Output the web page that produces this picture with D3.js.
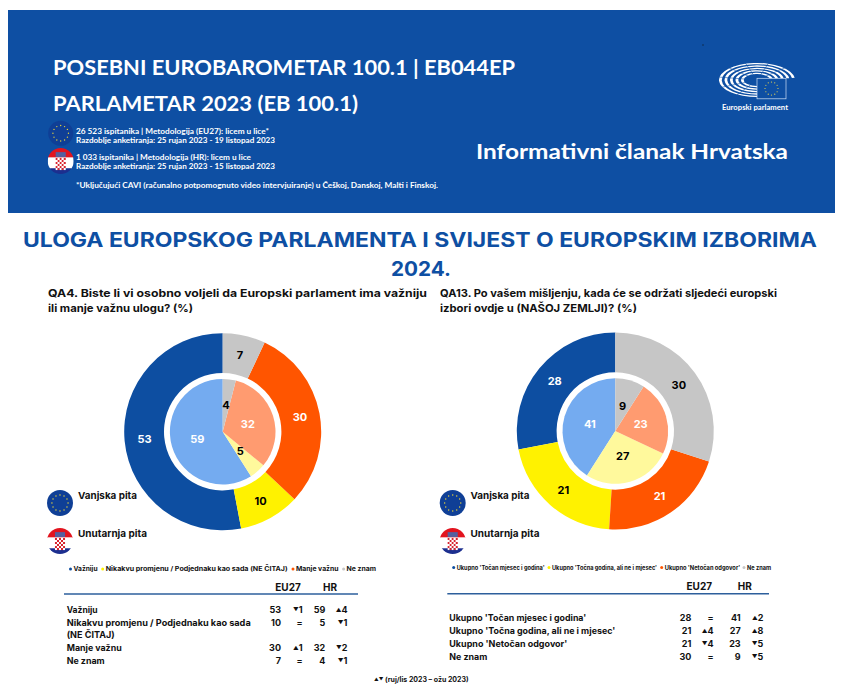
<!DOCTYPE html>
<html><head><meta charset="utf-8">
<script src="https://cdnjs.cloudflare.com/ajax/libs/d3/7.8.5/d3.min.js"></script>
<style>html,body{margin:0;padding:0;background:#fff}svg{display:block}text{font-family:Inter,"Noto Sans",sans-serif;font-weight:700}</style>
</head><body><svg id="c" width="841" height="696"></svg>
<script>
// ---------- data ----------
const qa4Categories = ["Važniju","Nikakvu promjenu / Podjednaku kao sada (NE ČITAJ)","Manje važnu","Ne znam"];
const qa4Outer = [53,10,30,7];
const qa4Inner = [59,5,32,4];
const qa4TrendEU = ["▼1","=","▲1","="];
const qa4TrendHR = ["▲4","▼1","▼2","▼1"];
const qa4RowLabels = [["Važniju"],["Nikakvu promjenu / Podjednaku kao sada","(NE ČITAJ)"],["Manje važnu"],["Ne znam"]];
const qa13Categories = ["Ukupno 'Točan mjesec i godina'","Ukupno 'Točna godina, ali ne i mjesec'","Ukupno 'Netočan odgovor'","Ne znam"];
const qa13Outer = [28,21,21,30];
const qa13Inner = [41,27,23,9];
const qa13TrendEU = ["=","▲4","▼4","="];
const qa13TrendHR = ["▲2","▲8","▼5","▼5"];
const outerColors = ["#0d4ea1","#fff200","#ff5500","#c6c6c6"];
const innerColors = ["#74abf0","#fff99c","#ff9b70","#c6c6c6"];
const labelOuterColors = ["#fff","#000","#fff","#000"];
const labelInnerColors = ["#fff","#000","#fff","#000"];

const svg = d3.select("#c");
const ink = "#111";
function T(x,y,s,size,opt={}){
  const t = svg.append("text").attr("x",x).attr("y",y).attr("font-size",size)
    .attr("fill",opt.fill||ink).attr("text-anchor",opt.anchor||"start").text(s);
  if(opt.font) t.style("font-family",opt.font);
  if(opt.weight) t.style("font-weight",opt.weight);
  if(opt.w) t.attr("textLength",opt.w).attr("lengthAdjust","spacingAndGlyphs");
  return t;
}
let clipId=0;
function euFlag(g,cx,cy,r){
  g.append("circle").attr("cx",cx).attr("cy",cy).attr("r",r).attr("fill","#0f3f96");
  d3.range(12).forEach(i=>{const a=i*Math.PI/6;
    g.append("circle").attr("cx",cx+Math.sin(a)*r*.62).attr("cy",cy-Math.cos(a)*r*.62).attr("r",r*.055).attr("fill","#e8d43a");});
}
function hrFlag(cx,cy,r){
  const id="cl"+(++clipId);
  svg.append("clipPath").attr("id",id).append("circle").attr("cx",cx).attr("cy",cy).attr("r",r);
  const g=svg.append("g").attr("clip-path",`url(#${id})`);
  [["#e2141f",0,.36],["#fff",.36,.42],["#1c2f8f",.78,.22]].forEach(([c,f,h])=>g.append("rect").attr("x",cx-r).attr("y",cy-r+f*2*r).attr("width",2*r).attr("height",h*2*r+.5).attr("fill",c));
  const s=r*.155;
  d3.range(6).forEach(row=>d3.range(5).forEach(col=>{
    g.append("rect").attr("x",cx+(col-2.5)*s).attr("y",cy+(row-1.5)*s).attr("width",s).attr("height",s)
     .attr("fill",(row+col)%2?"#fff":"#d8232f");}));
  g.append("rect").attr("x",cx-2.5*s).attr("y",cy-4.4*s).attr("width",5*s).attr("height",2.4*s).attr("fill","#55609f");
}

// ---------- banner ----------
svg.append("rect").attr("x",8).attr("y",10).attr("width",827).attr("height",203).attr("fill","#0e4fa3");
svg.append("circle").attr("cx",703).attr("cy",45).attr("r",.7).attr("fill","#123");
const bf="Lato,'Open Sans',sans-serif";
T(53,75,"POSEBNI EUROBAROMETAR 100.1 | EB044EP",20,{fill:"#fff",font:bf,w:462});
T(53,111,"PARLAMETAR 2023 (EB 100.1)",20,{fill:"#fff",font:bf,w:305});
T(476,159,"Informativni članak Hrvatska",21,{fill:"#fff",font:bf,w:312});
T(76,134,"26 523 ispitanika | Metodologija (EU27): licem u lice*",7.5,{fill:"#fff",font:bf,w:193});
T(76,143,"Razdoblje anketiranja: 25 rujan 2023 - 19 listopad 2023",7.5,{fill:"#fff",font:bf,w:199});
T(76,159.5,"1 033 ispitanika | Metodologija (HR): licem u lice",7.5,{fill:"#fff",font:bf,w:175});
T(76,169,"Razdoblje anketiranja: 25 rujan 2023 - 15 listopad 2023",7.5,{fill:"#fff",font:bf,w:199});
T(76,188,"*Uključujući CAVI (računalno potpomognuto video intervjuiranje) u Češkoj, Danskoj, Malti i Finskoj.",7.5,{fill:"#fff",font:bf,w:362});
euFlag(svg.append("g"),60.7,133.3,12.5);
hrFlag(60.7,161,13);

// EP logo
const logo=svg.append("g").attr("transform","translate(757,80) scale(1,.45)");
[38,32.5,27,21.5,16].forEach(r=>{
  logo.append("path").attr("d",d3.arc().innerRadius(r-2.8).outerRadius(r).startAngle(-Math.PI).endAngle(Math.PI*.46)()).attr("fill","#fff");
});
[-2.6,-2.0,-1.4,-.8,-.3,.3,.8].forEach(a=>{
  logo.append("line").attr("x1",Math.sin(a)*12).attr("y1",-Math.cos(a)*12).attr("x2",Math.sin(a)*40).attr("y2",-Math.cos(a)*40)
    .attr("stroke","#0e4fa3").attr("stroke-width",.8);
});
svg.append("rect").attr("x",757).attr("y",78.3).attr("width",29).attr("height",20.5).attr("fill","#0e4fa3").attr("stroke","#cfe0f5").attr("stroke-width",.7);
d3.range(12).forEach(i=>{const a=i*Math.PI/6;
  svg.append("circle").attr("cx",771.5+Math.sin(a)*6.5).attr("cy",88.5-Math.cos(a)*6.5).attr("r",.6).attr("fill","#f3dc4a");});
T(722,110,"Europski parlament",7.5,{fill:"#fff",font:bf,w:66});

// ---------- titles ----------
T(23,247,"ULOGA EUROPSKOG PARLAMENTA I SVIJEST O EUROPSKIM IZBORIMA",20,{fill:"#0e4fa3",w:794});
T(391,276,"2024.",20,{fill:"#0e4fa3",w:60});
T(48,297,"QA4. Biste li vi osobno voljeli da Europski parlament ima važniju",10.5,{w:379});
T(48,312,"ili manje važnu ulogu? (%)",10.5,{w:145});
T(440,297,"QA13. Po vašem mišljenju, kada će se održati sljedeći europski",10.5,{w:337});
T(440,312,"izbori ovdje u (NAŠOJ ZEMLJI)? (%)",10.5,{w:197});

// ---------- pies ----------
const pie=d3.pie().sort(null).startAngle(2*Math.PI).endAngle(0);
function drawPie(cx,cy,outer,inner){
  const g=svg.append("g").attr("transform",`translate(${cx},${cy})`);
  const oc=d3.scaleOrdinal(d3.range(4),outerColors), ic=d3.scaleOrdinal(d3.range(4),innerColors);
  const oa=d3.arc().innerRadius(58.7).outerRadius(98.5), ia=d3.arc().innerRadius(0).outerRadius(52.8);
  g.selectAll(".o").data(pie(outer)).join("path").attr("d",oa).attr("fill",(d,i)=>oc(i));
  g.selectAll(".i").data(pie(inner)).join("path").attr("d",ia).attr("fill",(d,i)=>ic(i));
  g.selectAll(".ol").data(pie(outer)).join("text").attr("transform",d=>`translate(${oa.centroid(d)})`)
    .attr("text-anchor","middle").attr("dy","0.36em").attr("font-size",11).attr("fill",(d,i)=>labelOuterColors[i]).text(d=>d.value);
  g.selectAll(".il").data(pie(inner)).join("text").attr("transform",d=>`translate(${ia.centroid(d)})`)
    .attr("text-anchor","middle").attr("dy","0.36em").attr("font-size",11).attr("fill",(d,i)=>labelInnerColors[i]).text(d=>d.value);
}
drawPie(222.7,431.7,qa4Outer,qa4Inner);
drawPie(615.3,431,qa13Outer,qa13Inner);

// ---------- pie keys ----------
euFlag(svg.append("g"),60,503,13);
hrFlag(60,541,13);
euFlag(svg.append("g"),452.7,503,13);
hrFlag(452.7,541,13);
T(78,499,"Vanjska pita",9.5,{w:59});
T(78,537,"Unutarnja pita",9.5,{w:69});
T(470.5,499,"Vanjska pita",9.5,{w:59});
T(470.5,537,"Unutarnja pita",9.5,{w:69});

// ---------- legends ----------
function legend(cats,y,xs,ws,size){
  cats.forEach((c,i)=>{
    svg.append("circle").attr("cx",xs[i]-3).attr("cy",y-2.2).attr("r",1.5).attr("fill",outerColors[i]);
    T(xs[i],y,c,size,{w:ws[i]});
  });
}
legend(qa4Categories,571.3,[73.5,105.7,296,346.6],[24,182,42.5,29.5],6.2);
legend(qa13Categories,569.7,[456.7,552,664.7,747],[88,105,75.5,24],5.6);

// ---------- tables ----------
function trendText(x,y,s,size){
  const t=svg.append("text").attr("x",x).attr("y",y).attr("text-anchor","end").attr("font-size",size).attr("fill",ink);
  if(s==="="){t.text("=");return;}
  t.append("tspan").attr("font-size",5.5).attr("dy",-1).text(s[0]);
  t.append("tspan").attr("dy",1).text(s.slice(1));
}
function table(o){
  T(o.hEU,o.hy,"EU27",10,{anchor:"middle"});
  T(o.hHR,o.hy,"HR",10,{anchor:"middle"});
  svg.append("line").attr("x1",o.l1).attr("x2",o.l2).attr("y1",o.ly).attr("y2",o.ly).attr("stroke","#2d5f9c").attr("stroke-width",1.4);
  let y=o.y0;
  o.rows.forEach((lines,i)=>{
    lines.forEach((s,k)=>T(o.tx,y+k*11.7,s,9,{w:o.widths[i][k]}));
    T(o.c1,y,o.eu[i],9,{anchor:"end"});
    trendText(o.c2,y,o.te[i],9);
    T(o.c3,y,o.hr[i],9,{anchor:"end"});
    trendText(o.c4,y,o.th[i],9);
    y+=13+(lines.length-1)*11.7;
  });
}
table({hEU:288,hHR:330,hy:590.7,l1:64,l2:358,ly:594,y0:613,tx:66.7,c1:281,c2:302.7,c3:325.3,c4:347.5,
  rows:qa4RowLabels,widths:[[31],[184,48],[55],[38]],eu:qa4Outer,hr:qa4Inner,te:qa4TrendEU,th:qa4TrendHR});
table({hEU:699.3,hHR:744.7,hy:590,l1:447.3,l2:769,ly:593.7,y0:621.3,tx:449.3,c1:691.3,c2:713.7,c3:740.7,c4:763.3,
  rows:qa13Categories.map(c=>[c]),widths:[[137],[166],[118],[38]],eu:qa13Outer,hr:qa13Inner,te:qa13TrendEU,th:qa13TrendHR});

// footer
const ft=svg.append("text").attr("x",374).attr("y",682).attr("font-size",7).attr("fill",ink);
ft.append("tspan").attr("font-size",4.5).attr("dy",-1).text("▲▼");
ft.append("tspan").attr("dy",1).attr("dx",1.5).text("(ruj/lis 2023 – ožu 2023)");
</script></body></html>
